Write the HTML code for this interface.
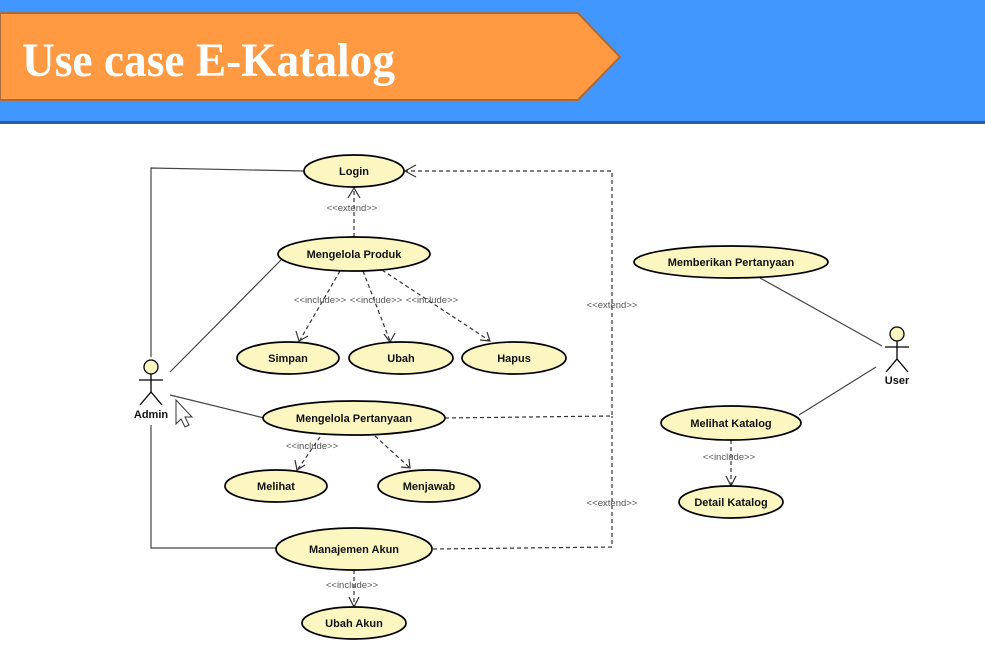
<!DOCTYPE html>
<html><head><meta charset="utf-8"><style>
html,body{margin:0;padding:0;background:#fff;}
svg{display:block;}
.e{fill:#FCF6C0;stroke:#000;stroke-width:1.7;}
.t{font-family:"Liberation Sans",sans-serif;font-size:11px;font-weight:bold;text-anchor:middle;fill:#111;}
.s{font-family:"Liberation Sans",sans-serif;font-size:9.5px;text-anchor:middle;fill:#555;}
.l{stroke:#444;stroke-width:1.2;fill:none;}
.d{stroke:#333;stroke-width:1.2;fill:none;stroke-dasharray:4,3;}
.a{stroke:#333;stroke-width:1.2;fill:none;}
</style></head><body>
<svg width="985" height="665" viewBox="0 0 985 665" xmlns="http://www.w3.org/2000/svg">
<rect x="0" y="0" width="985" height="122" fill="#4297FF"/>
<rect x="0" y="121" width="985" height="3" fill="#2E5E9E"/>
<polygon points="0,13 578,13 620,57 578,100 0,100" fill="#FF9A42" stroke="#A86A3A" stroke-width="2"/>
<text x="22" y="76" font-family="Liberation Serif,serif" font-weight="bold" font-size="48" fill="#fff" textLength="373" lengthAdjust="spacingAndGlyphs">Use case E-Katalog</text>

<polyline class="l" points="151,357 151,168 304,171"/>
<line class="l" x1="170" y1="372" x2="281" y2="260"/>
<line class="l" x1="170" y1="395" x2="264" y2="418"/>
<polyline class="l" points="151,425 151,548 276,548"/>
<line class="l" x1="882" y1="346" x2="760" y2="278"/>
<line class="l" x1="876" y1="367" x2="799" y2="415"/>

<line class="d" x1="354" y1="237" x2="354" y2="189"/>
<polyline class="a" points="348,198 354,188 360,198"/>
<polyline class="d" points="445,418 612,416 612,171 406,171"/>
<polyline class="a" points="416,165 405,171 416,177"/>
<polyline class="d" points="433,549 612,547 612,416"/>
<line class="d" x1="340" y1="271" x2="300" y2="340"/>
<polyline class="a" points="296,331 299,341 308,336"/>
<line class="d" x1="363" y1="271" x2="390" y2="341"/>
<polyline class="a" points="384,334 390,342 395,333"/>
<line class="d" x1="382" y1="270" x2="490" y2="341"/>
<polyline class="a" points="480,340 490,341 487,332"/>
<line class="d" x1="320" y1="437" x2="298" y2="469"/>
<polyline class="a" points="295,460 297,470 305,465"/>
<line class="d" x1="375" y1="436" x2="410" y2="468"/>
<polyline class="a" points="401,467 410,468 409,459"/>
<line class="d" x1="731" y1="440" x2="731" y2="485"/>
<polyline class="a" points="726,476 731,486 736,476"/>
<line class="d" x1="354" y1="570" x2="354" y2="606"/>
<polyline class="a" points="349,597 354,607 359,597"/>

<text class="s" x="352" y="211">&lt;&lt;extend&gt;&gt;</text>
<text class="s" x="320" y="303">&lt;&lt;include&gt;&gt;</text>
<text class="s" x="376" y="303">&lt;&lt;include&gt;&gt;</text>
<text class="s" x="432" y="303">&lt;&lt;include&gt;&gt;</text>
<text class="s" x="612" y="308">&lt;&lt;extend&gt;&gt;</text>
<text class="s" x="612" y="506">&lt;&lt;extend&gt;&gt;</text>
<text class="s" x="312" y="449">&lt;&lt;include&gt;&gt;</text>
<text class="s" x="729" y="460">&lt;&lt;include&gt;&gt;</text>
<text class="s" x="352" y="588">&lt;&lt;include&gt;&gt;</text>

<ellipse class="e" cx="354" cy="171" rx="50" ry="16"/><text class="t" x="354" y="175">Login</text>
<ellipse class="e" cx="354" cy="254" rx="76" ry="17"/><text class="t" x="354" y="258">Mengelola Produk</text>
<ellipse class="e" cx="288" cy="358" rx="51" ry="16"/><text class="t" x="288" y="362">Simpan</text>
<ellipse class="e" cx="401" cy="358" rx="52" ry="16"/><text class="t" x="401" y="362">Ubah</text>
<ellipse class="e" cx="514" cy="358" rx="52" ry="16"/><text class="t" x="514" y="362">Hapus</text>
<ellipse class="e" cx="354" cy="418" rx="91" ry="17"/><text class="t" x="354" y="422">Mengelola Pertanyaan</text>
<ellipse class="e" cx="276" cy="486" rx="51" ry="16"/><text class="t" x="276" y="490">Melihat</text>
<ellipse class="e" cx="429" cy="486" rx="51" ry="16"/><text class="t" x="429" y="490">Menjawab</text>
<ellipse class="e" cx="354" cy="549" rx="78" ry="21"/><text class="t" x="354" y="553">Manajemen Akun</text>
<ellipse class="e" cx="354" cy="623" rx="52" ry="16"/><text class="t" x="354" y="627">Ubah Akun</text>
<ellipse class="e" cx="731" cy="262" rx="97" ry="16"/><text class="t" x="731" y="266">Memberikan Pertanyaan</text>
<ellipse class="e" cx="731" cy="423" rx="70" ry="17"/><text class="t" x="731" y="427">Melihat Katalog</text>
<ellipse class="e" cx="731" cy="502" rx="52" ry="16"/><text class="t" x="731" y="506">Detail Katalog</text>

<g stroke="#000" stroke-width="1.3" fill="none">
<circle cx="151" cy="367" r="7" fill="#FCF6C0"/>
<line x1="151" y1="374" x2="151" y2="392"/><line x1="139" y1="380" x2="163" y2="380"/>
<polyline points="140,405 151,392 162,405"/>
<circle cx="897" cy="334" r="7" fill="#FCF6C0"/>
<line x1="897" y1="341" x2="897" y2="359"/><line x1="885" y1="347" x2="909" y2="347"/>
<polyline points="886,372 897,359 908,372"/>
</g>
<text class="t" x="151" y="418">Admin</text>
<text class="t" x="897" y="384">User</text>
<polygon points="176,400 176,424 181,419 185,427 189,425 185,417 192,417" fill="#fff" stroke="#333" stroke-width="1"/>
</svg>
</body></html>
